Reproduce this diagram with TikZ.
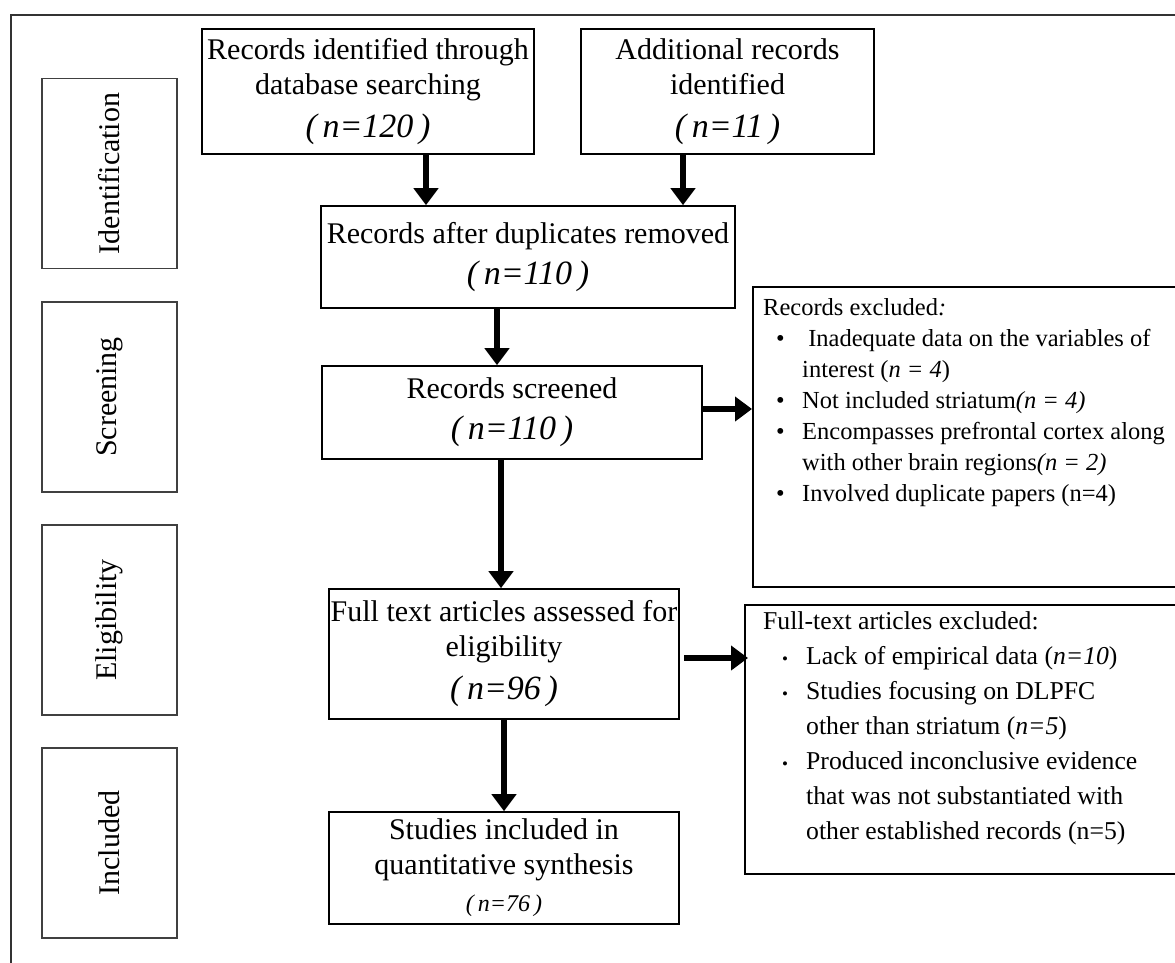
\documentclass[tikz,border=0pt]{standalone}
\usepackage{fontspec}
\setmainfont{Liberation Serif}
\usetikzlibrary{arrows.meta, positioning, calc}

\newcommand{\nfont}{\fontsize{34}{40}\selectfont\itshape}
\newcommand{\smbullet}{\hspace*{19pt}{\fontsize{17}{20}\selectfont\textbullet}}

\begin{document}
\begin{tikzpicture}[x=1pt, y=-1pt,
  box/.style={draw, line width=1.6pt, inner sep=2pt, align=center, font=\fontsize{30}{35}\selectfont},
  phase/.style={draw=black!75, line width=1.4pt, rotate=90, minimum width=190pt, minimum height=135pt, font=\fontsize{30}{35}\selectfont},
  exclbox/.style={draw, line width=1.6pt, anchor=north west, minimum width=470pt},
  arr/.style={line width=6pt, -{Triangle[length=17pt, width=24pt]}}]
\clip (0,0) rectangle (1175,962);
\draw[line width=2pt, black!80] (10.5,990) -- (10.5,15) -- (1200,15);

% phases
\node[phase] (idph) at (109.5,173.5) {Identification};
\node[phase] (scph) at (109.5,397) {Screening};
\node[phase] (elph) at (109.5,620) {Eligibility};
\node[phase] (inph) at (109.5,843) {Included};

% flow
\node[box, minimum width=332pt, minimum height=125pt] (recdb) at (368,91.5) {Records identified through\\database searching\\[8pt]{\nfont (\,n=120\,)}};
\node[box, minimum width=293pt, minimum height=125pt] (addrec) at (727.5,91.5) {Additional records\\identified\\[8pt]{\nfont (\,n=11\,)}};
\node[box, minimum width=414pt, minimum height=102pt] (dedup) at (528,257) {Records after duplicates removed\\[6pt]{\nfont (\,n=110\,)}};
\node[box, minimum width=380pt, minimum height=93pt] (screen) at (512,412.5) {Records screened\\[6pt]{\nfont (\,n=110\,)}};
\node[box, minimum width=350pt, minimum height=130pt] (fulltext) at (504,654) {Full text articles assessed for\\eligibility\\[8pt]{\nfont (\,n=96\,)}};
\node[box, minimum width=350pt, minimum height=112pt] (incl) at (504,868) {Studies included in\\quantitative synthesis\\[2pt]{\fontsize{24}{28}\selectfont\itshape (\,n=76\,)}};

% exclusions
\node[exclbox, minimum height=300pt] (recexcl) at (752,286) {};
\node[anchor=north west, inner sep=0pt, font=\fontsize{24.5}{31}\selectfont] (recexcltxt) at ([xshift=11pt, yshift=-8pt]recexcl.north west) {%
\begin{tabular}{@{}p{39pt}@{}l@{}}
\multicolumn{2}{@{}l@{}}{Records excluded\textit{:}}\\
\hspace*{13pt}\textbullet & \ Inadequate data on the variables of\\
 & interest (\textit{n = 4})\\
\hspace*{13pt}\textbullet & Not included striatum\textit{(n = 4)}\\
\hspace*{13pt}\textbullet & Encompasses prefrontal cortex along\\
 & with other brain regions\textit{(n = 2)}\\
\hspace*{13pt}\textbullet & Involved duplicate papers (n=4)
\end{tabular}};
\node[exclbox, minimum height=269pt] (ftexcl) at (744,604) {};
\node[anchor=north west, inner sep=0pt, font=\fontsize{25.7}{35}\selectfont] (ftexcltxt) at ([xshift=19pt, yshift=-1pt]ftexcl.north west) {%
\begin{tabular}{@{}p{43pt}@{}l@{}}
\multicolumn{2}{@{}l@{}}{Full-text articles excluded:}\\
\smbullet & Lack of empirical data (\textit{n=10})\\
\smbullet & Studies focusing on DLPFC\\
 & other than striatum (\textit{n=5})\\
\smbullet & Produced inconclusive evidence\\
 & that was not substantiated with\\
 & other established records (n=5)
\end{tabular}};

% arrows
\draw[arr] ([xshift=58pt]recdb.south) -- ([xshift=58pt]recdb.south |- dedup.north);
\draw[arr] ([xshift=-44.5pt]addrec.south) -- ([xshift=-44.5pt]addrec.south |- dedup.north);
\draw[arr] ([xshift=-31pt]dedup.south) -- ([xshift=-31pt]dedup.south |- screen.north);
\draw[arr] ([xshift=-11pt]screen.south) -- ([xshift=-11pt]screen.south |- fulltext.north);
\draw[arr] (fulltext.south) -- (incl.north);
\draw[arr] ([yshift=3.5pt]screen.east) -- ([yshift=3.5pt]screen.east -| recexcl.west);
\draw[arr] ([xshift=4pt, yshift=-4pt]fulltext.east) -- ([xshift=4pt, yshift=-4pt]fulltext.east -| ftexcl.west);
\end{tikzpicture}
\end{document}
